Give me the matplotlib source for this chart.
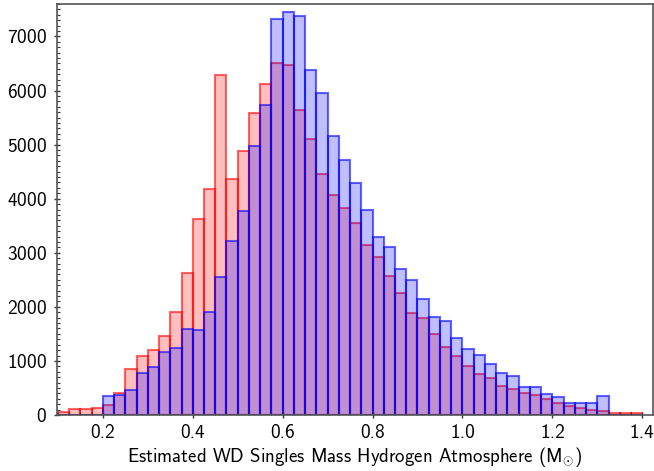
import numpy as np
import matplotlib
matplotlib.use('Agg')
import matplotlib.pyplot as plt
from matplotlib.ticker import MultipleLocator

plt.rcParams['font.family'] = ['cmss10', 'DejaVu Sans']
plt.rcParams['mathtext.fontset'] = 'cm'
plt.rcParams['axes.formatter.use_mathtext'] = True

# histogram bins: 0.1 .. 1.4 in steps of 0.025
bin_edges = np.linspace(0.1, 1.4, 53)

# counts per bin
red_counts = [60, 117, 117, 136, 185, 413, 845, 1092, 1203, 1462,
              1912, 2621, 3633, 4188, 6285, 4373, 4885, 5582, 6118, 6507,
              6476, 5631, 5101, 4459, 4077, 3830, 3547, 3146, 2924, 2572,
              2264, 1894, 1801, 1493, 1252, 1092, 907, 759, 691, 543,
              481, 413, 376, 290, 228, 173, 136, 93, 68, 31,
              31, 31]
blue_counts = [0, 0, 0, 0, 352, 370, 463, 783, 894, 1172,
               1246, 1597, 1573, 1912, 2560, 3226, 3769, 4978, 5730, 7315,
               7457, 7383, 6372, 5958, 5150, 4718, 4281, 3793, 3294, 3102,
               2695, 2498, 2146, 1820, 1739, 1419, 1221, 1104, 944, 783,
               722, 524, 524, 395, 339, 228, 228, 216, 345, 0,
               0, 0]

xlabel = 'Estimated WD Singles Mass Hydrogen Atmosphere (M$_{\\odot}$)'

fig = plt.figure(figsize=(6.54, 4.71), dpi=100)
ax = fig.add_axes([0.0872, 0.1189, 0.9113, 0.8726])

centers = bin_edges[:-1] + 0.0125
ax.hist(centers, bins=bin_edges, weights=red_counts,
        facecolor=(1, 0, 0, 0.25), edgecolor=(1, 0, 0, 0.6), linewidth=1.5)
ax.hist(centers, bins=bin_edges, weights=blue_counts,
        facecolor=(0, 0, 1, 0.25), edgecolor=(0, 0, 1, 0.6), linewidth=1.5)

ax.set_xlim(0.098, 1.424)
ax.set_ylim(0, 7600)
ax.xaxis.set_major_locator(MultipleLocator(0.2))
ax.xaxis.set_minor_locator(MultipleLocator(0.025))
ax.yaxis.set_major_locator(MultipleLocator(1000))
ax.yaxis.set_minor_locator(MultipleLocator(100))
ax.tick_params(which='major', direction='inout', length=5, width=1,
               labelsize=14, pad=5, color='#333333')
ax.tick_params(axis='x', which='major', pad=4)
ax.tick_params(which='minor', direction='in', length=2.5, width=0.8,
               color='#333333')
ax.xaxis.set_major_formatter(matplotlib.ticker.FormatStrFormatter('%.1f'))

for s in ax.spines.values():
    s.set_color('#555555')
    s.set_linewidth(1.2)

ax.set_xlabel(xlabel, fontsize=13.6, labelpad=2)

fig.savefig('out.png', dpi=100)
